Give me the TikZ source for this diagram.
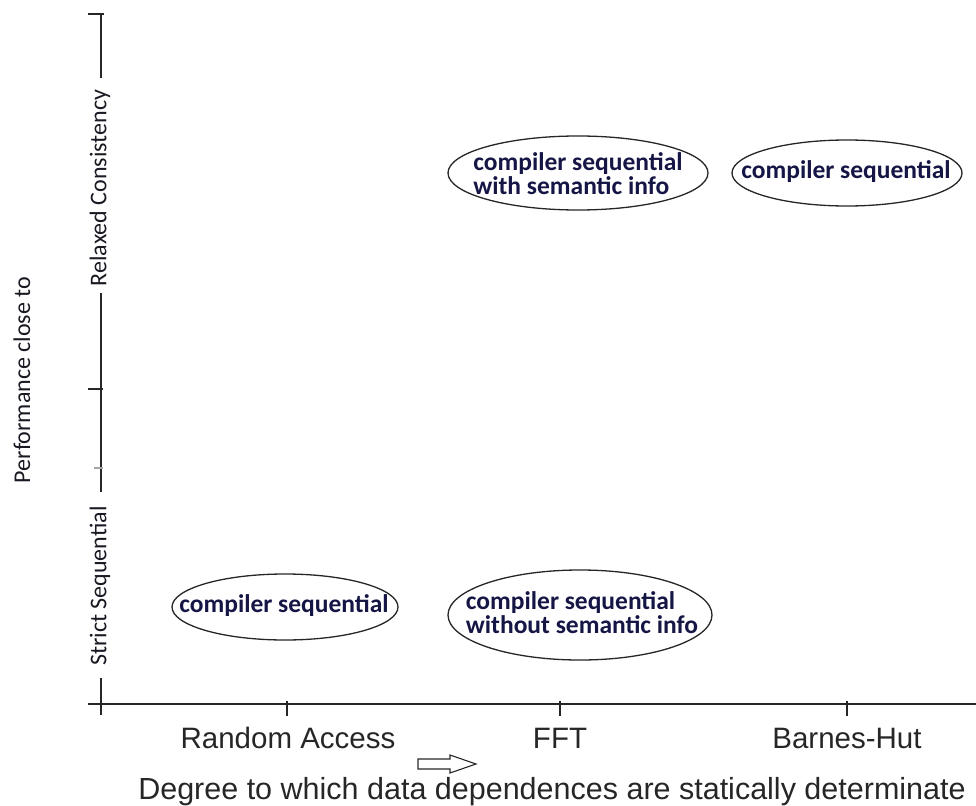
\documentclass[tikz,border=0pt]{standalone}
\usepackage{fontspec}
\newfontfamily\calib{Carlito}
\newfontfamily\arialf{Liberation Sans}
\definecolor{navy}{RGB}{22,22,70}
\definecolor{inkc}{RGB}{25,25,35}
\begin{document}
\begin{tikzpicture}[x=1pt,y=-1pt,
  axisline/.style={line width=1.8pt,black!85},
  ylab/.style={rotate=90,font=\calib\fontsize{24}{28}\selectfont,text=inkc,inner sep=0pt},
  xlab/.style={anchor=base,font=\arialf\fontsize{29.5}{34}\selectfont,text=black!85,inner sep=0pt},
  ovaltext/.style={inner sep=0pt,font=\calib\bfseries\fontsize{25.5}{24}\selectfont,text=navy},
  ovalline/.style={draw=black!85,line width=1.3pt}]
\useasboundingbox (0,0) rectangle (976,805);
% y axis segments
\draw[axisline] (101,14) -- (101,78);
\draw[axisline] (101,293) -- (101,492);
\draw[axisline] (101,678) -- (101,715);
% y ticks
\draw[axisline] (88,14) -- (104,14);
\draw[axisline] (88,389) -- (103,389);
\draw[line width=1.8pt,black!35] (94,468) -- (103,468);
% x axis
\draw[axisline] (88,704) -- (976,704);
\draw[axisline] (287,701) -- (287,716);
\draw[axisline] (560,701) -- (560,716);
\draw[axisline] (847,701) -- (847,716);
% y labels
\node[ylab] (relaxed) at (100,188) {Relaxed Consistency};
\node[ylab] (strict) at (100,586) {Strict Sequential};
\node[ylab] (perf) at (22,380) {Performance close to};
% x labels
\node[xlab] (ra) at (288,748) {Random Access};
\node[xlab] (fft) at (560,748) {FFT};
\node[xlab] (bh) at (847,748) {Barnes-Hut};
\node[xlab,font=\arialf\fontsize{30.5}{34}\selectfont] (deg) at (552,799) {Degree to which data dependences are statically determinate};
% hollow arrow
\draw[line width=1.1pt,black!85] (418,759) -- (450,759) -- (450,755) -- (476,764) -- (450,773) -- (450,769) -- (418,769) -- cycle;
% ellipses
\node[ovaltext,align=left] (e1) at (578,174) {compiler sequential\\with semantic info};
\draw[ovalline] (578,173) ellipse [x radius=130, y radius=37];
\node[ovaltext] (e2) at (846,172) {compiler sequential};
\draw[ovalline] (847,173) ellipse [x radius=115, y radius=33];
\node[ovaltext] (e3) at (284,606) {compiler sequential};
\draw[ovalline] (285,607) ellipse [x radius=113, y radius=33];
\node[ovaltext,align=left] (e4) at (582,613) {compiler sequential\\without semantic info};
\draw[ovalline] (580,615) ellipse [x radius=132, y radius=45];
\end{tikzpicture}
\end{document}
